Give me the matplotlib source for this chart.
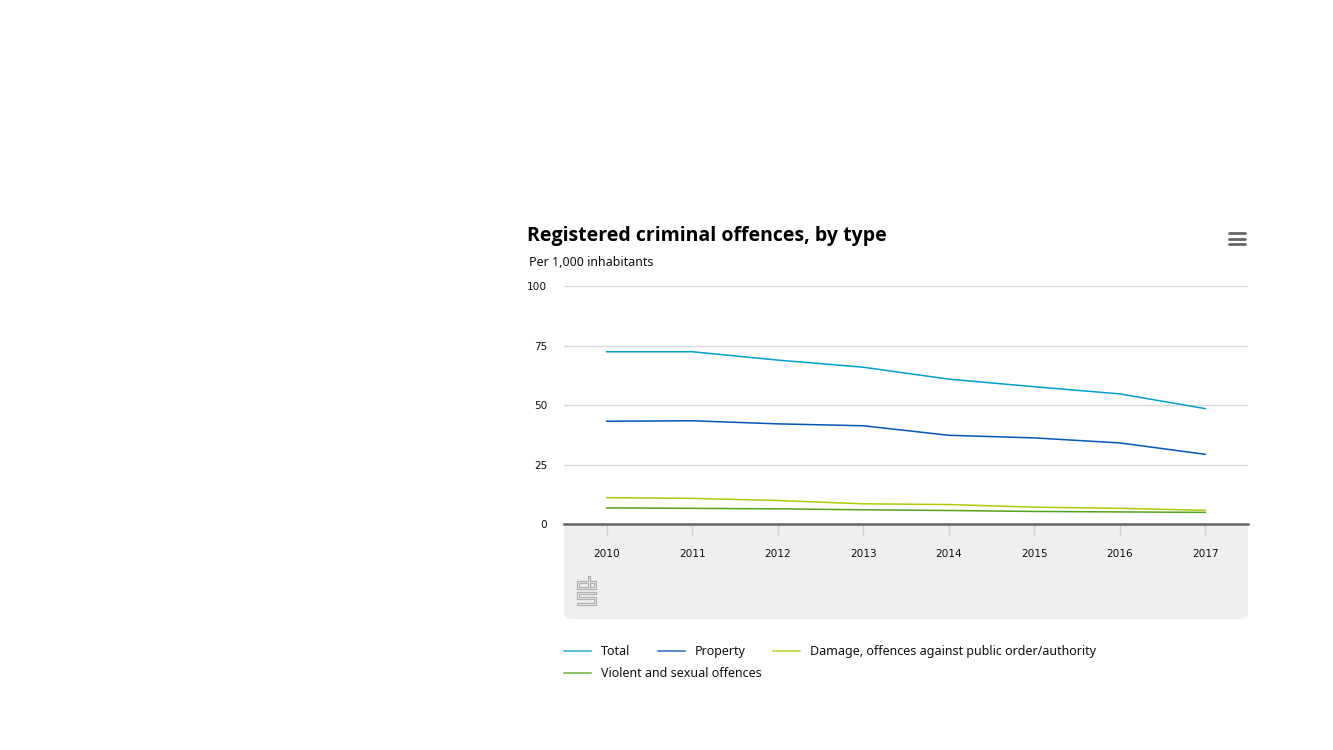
import matplotlib
matplotlib.use("Agg")
import matplotlib.pyplot as plt
from matplotlib.lines import Line2D
from matplotlib.patches import FancyBboxPatch, Rectangle

years = ["2010", "2011", "2012", "2013", "2014", "2015", "2016", "2017"]
total = [72.5, 72.5, 69.0, 66.0, 61.0, 57.8, 54.8, 48.6]
prop = [43.3, 43.5, 42.2, 41.4, 37.4, 36.3, 34.2, 29.4]
damage = [11.2, 10.9, 10.0, 8.6, 8.3, 7.2, 6.7, 5.9]
violent = [6.9, 6.7, 6.5, 6.1, 5.8, 5.4, 5.2, 5.0]
y_ticks = [0, 25, 50, 75, 100]

names = ["Total", "Property", "Damage, offences against public order/authority",
         "Violent and sexual offences"]
colors = ["#00a1cd", "#0058b8", "#afcb05", "#53a31d"]

W, H = 1333, 750
plt.rcParams["font.family"] = ["Noto Sans", "DejaVu Sans"]

fig = plt.figure(figsize=(W / 100, H / 100), dpi=100)


def px(x, y):
    # pixel position (from top left) to figure fraction
    return x / W, 1 - y / H


# grey panel under the axis
panel = FancyBboxPatch((564 / W, 1 - 619 / H), 684 / W, 60 / H,
                       boxstyle="round,pad=0,rounding_size=0.006",
                       transform=fig.transFigure, fc="#efefef", ec="none",
                       mutation_aspect=W / H, zorder=0)
fig.add_artist(panel)
fig.add_artist(Rectangle((564 / W, 1 - 600 / H), 684 / W, 76 / H,
                         transform=fig.transFigure, fc="#efefef", ec="none", zorder=0))

ax = fig.add_axes([564 / W, 1 - 524.3 / H, 684 / W, (524.3 - 286.3) / H])
ax.patch.set_alpha(0)
ax.set_xlim(-0.5, 7.5)
ax.set_ylim(0, 100)

for vals, c in zip([total, prop, damage, violent], colors):
    ax.plot(range(len(years)), vals, color=c, lw=1.1, zorder=3, clip_on=False)

ax.set_yticks(y_ticks)
ax.set_xticks(range(len(years)))
ax.set_xticklabels(years)
ax.grid(axis="y", color="#d9d9d9", lw=1)
ax.set_axisbelow(True)
for s in ["top", "right", "left"]:
    ax.spines[s].set_visible(False)
ax.spines["bottom"].set_color("#666666")
ax.spines["bottom"].set_linewidth(1.8)
ax.spines["bottom"].set_zorder(4)
ax.tick_params(axis="y", length=0, pad=12, labelsize=7.6, labelcolor="#111111",
               labelfontfamily="DejaVu Sans")
ax.tick_params(axis="x", length=8, width=1, color="#d0d0d0", pad=9.5,
               labelsize=7.6, labelcolor="#111111", labelfontfamily="DejaVu Sans")

# title and subtitle
x, y = px(527, 235.5)
fig.text(x, y, "Registered criminal offences, by type", fontsize=14,
         fontfamily="Open Sans", fontweight="bold", color="#000000", va="center", ha="left")
x, y = px(529, 262.5)
fig.text(x, y, "Per 1,000 inhabitants", fontsize=9, color="#111111", va="center", ha="left")

# menu icon
for yy in [233.3, 238.7, 244.3]:
    x0, y0 = px(1229, yy)
    x1, y1 = px(1245, yy)
    fig.add_artist(Line2D([x0, x1], [y0, y1], color="#666666", lw=2.0,
                          solid_capstyle="round", transform=fig.transFigure))

# legend, two rows like the original
legend_pos = [(564, 651), (658, 651), (773, 651), (564, 673)]
for name, c, (lx, ly) in zip(names, colors, legend_pos):
    x0, y0 = px(lx, ly)
    x1, _ = px(lx + 27, ly)
    fig.add_artist(Line2D([x0, x1], [y0, y0], color=c, lw=1.1, alpha=0.85,
                          transform=fig.transFigure))
    tx, ty = px(lx + 37, ly + 0.5)
    fig.text(tx, ty, name, fontsize=9, color="#111111", va="center", ha="left")

# cbs logo
logo = [
    [(576.5, 589), (576.5, 580.5), (586, 580.5), (586, 583), (579, 583), (579, 586.5),
     (586, 586.5), (586, 589), (576.5, 589)],
    [(587.5, 589), (587.5, 575.5), (590, 575.5), (590, 580.5), (596, 580.5), (596, 589),
     (587.5, 589)],
    [(590, 583), (593.5, 583), (593.5, 586.5), (590, 586.5), (590, 583)],
    [(576.5, 591.5), (596, 591.5), (596, 594), (579, 594), (579, 596.5), (596, 596.5),
     (596, 605), (576.5, 605), (576.5, 602.5), (593.5, 602.5), (593.5, 599), (576.5, 599),
     (576.5, 591.5)],
]
for part in logo:
    xs = [p[0] / W for p in part]
    ys = [1 - p[1] / H for p in part]
    fig.add_artist(Line2D(xs, ys, color="#b0b0b0", lw=0.9, transform=fig.transFigure))

fig.savefig("out.png", dpi=100)
